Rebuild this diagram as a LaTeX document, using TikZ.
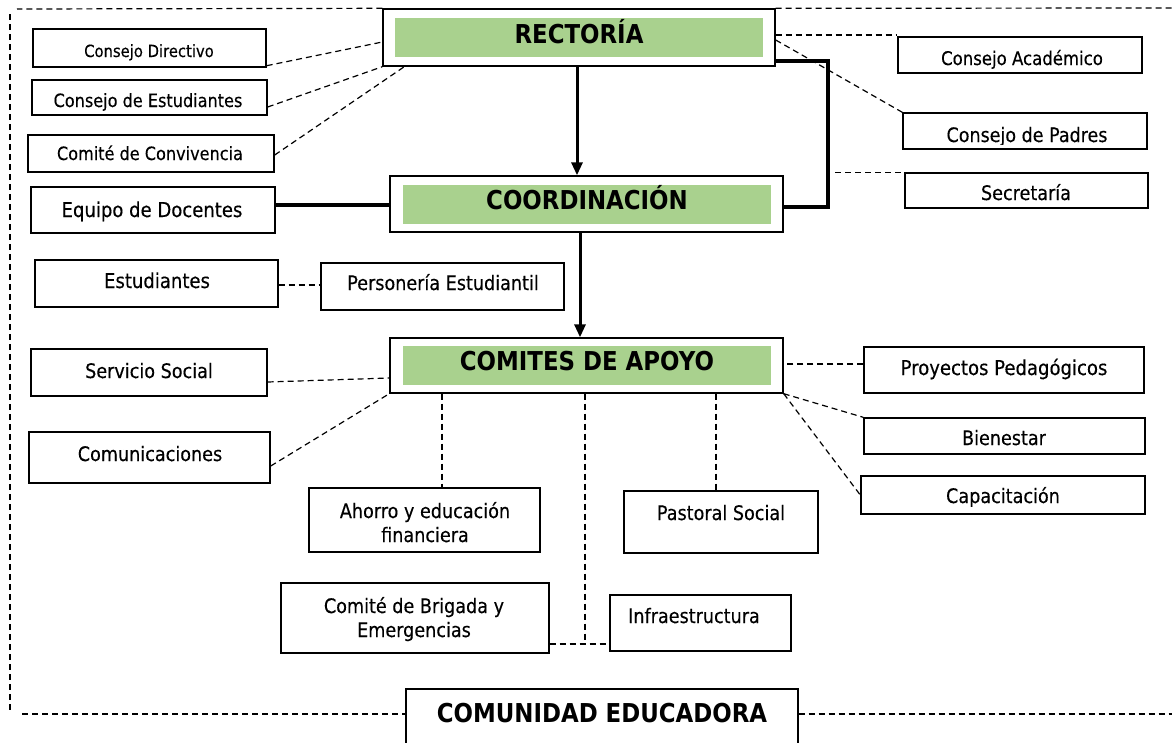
\documentclass[tikz,border=0pt]{standalone}
\usepackage{fontspec}
\setmainfont{DejaVu Sans}[FakeStretch=0.88, UprightFeatures={FakeBold=0.3}]
\usetikzlibrary{arrows.meta,calc}
\definecolor{hdgreen}{RGB}{169,209,142}
\newcommand{\fsz}[1]{\fontsize{#1}{#1}\selectfont}
\newcommand{\bx}[5]{\node[boxst, minimum width={#4-#2}, minimum height={#5-#3}] (#1) at ({(#2+#4)/2},{(#3+#5)/2}) {};}
\tikzset{
  boxst/.style={draw=black, line width=1.4pt, rectangle, inner sep=0pt, fill=white},
  dsh/.style={draw=black, line width=1.2pt, dash pattern=on 6pt off 4pt},
  thk/.style={draw=black, line width=4.5pt},
  arr/.style={draw=black, line width=3pt, -{Triangle[length=13pt,width=11pt]}},
  txt/.style={anchor=base, inner sep=0pt, font=\fsz{20}},
  ttl/.style={anchor=base, inner sep=0pt, font=\fsz{26}\bfseries}
}
\begin{document}
\begin{tikzpicture}[x=1pt,y=-1pt]
\useasboundingbox (0,0) rectangle (1172,742);

% ---- outer dashed frame
\coordinate (ftr) at (1172,8);
\coordinate (ftl) at (17,9);
\coordinate (flt) at (10,14);
\coordinate (flb) at (10,712);
\coordinate (fbl) at (22,714);
\coordinate (fbr) at (1172,714);

% ---- boxes
\bx{rect}{383}{9}{775}{66}
\bx{coord}{390}{176}{783}{232}
\bx{comites}{390}{338}{783}{393}
\bx{cdir}{33}{29}{266}{67}
\bx{cest}{32}{80}{267}{115}
\bx{cconv}{28}{135}{274}{172}
\bx{cacad}{898}{37}{1142}{73}
\bx{cpad}{903}{113}{1147}{149}
\bx{secr}{905}{173}{1148}{208}
\bx{equipo}{31}{187}{275}{233}
\bx{estud}{35}{260}{278}{307}
\bx{perso}{321}{263}{564}{310}
\bx{servsoc}{31}{349}{267}{396}
\bx{comun}{29}{432}{270}{483}
\bx{ahorro}{309}{488}{540}{552}
\bx{brigada}{281}{583}{549}{653}
\bx{proyped}{864}{347}{1144}{393}
\bx{bienestar}{864}{418}{1145}{454}
\bx{capac}{861}{476}{1145}{514}
\bx{pastoral}{624}{491}{818}{553}
\bx{infra}{610}{595}{791}{651}
\bx{comunidad}{406}{689}{798}{750}

% ---- green bands
\fill[hdgreen] (395,18) rectangle (763,57);
\fill[hdgreen] (403,185) rectangle (771,224);
\fill[hdgreen] (403,346) rectangle (771,385);

% ---- frame lines
\draw[dsh] (rect.north west) -- (ftl);
\draw[dsh] (rect.north east) -- (ftr);
\draw[dsh] (flt) -- (flb);
\draw[dsh] (fbl) -- ([yshift=5.5pt]comunidad.west);
\draw[dsh] ([yshift=5.5pt]comunidad.east) -- (fbr);

% ---- connectors: Rectoria
\draw[dsh] ([yshift=2pt]cdir.south east) -- ([yshift=-4.5pt]rect.west);
\draw[dsh] ([yshift=-9.5pt]cest.east) -- (rect.south west);
\draw[dsh] ([yshift=-1.5pt]cconv.east) -- ([xshift=22pt]rect.south west);
\draw[dsh] ([yshift=2.5pt]rect.east) coordinate (ra) -- (ra -| cacad.west);
\draw[dsh] ([yshift=-2.5pt]rect.east) -- (cpad.north west);
\coordinate (jog) at (828,0);
\coordinate (ta) at ([yshift=-23.5pt]rect.east);
\coordinate (tb) at ([yshift=-3pt]coord.east);
\draw[thk] (ta) -- (ta -| jog) -- (tb -| jog) -- (tb);
\draw[dsh] ([xshift=7pt]jog |- secr.north west) -- (secr.north west);
\draw[arr] ([xshift=-2pt]rect.south) -- ([xshift=-2pt]rect.south |- coord.north);

% ---- connectors: Coordinacion
\draw[thk] ([yshift=5pt]equipo.east) coordinate (ea) -- (ea -| coord.west);
\draw[dsh] ([yshift=-1.5pt]estud.east) coordinate (sa) -- (sa -| perso.west);
\draw[arr] ([xshift=-6.5pt]coord.south) -- ([xshift=-6.5pt]coord.south |- comites.north);

% ---- connectors: Comites
\draw[dsh] ([yshift=-9.5pt]servsoc.east) -- ([yshift=-12.5pt]comites.west);
\draw[dsh] ([yshift=-8.5pt]comun.east) -- (comites.south west);
\draw[dsh] ([xshift=17.5pt]ahorro.north |- comites.south) -- ([xshift=17.5pt]ahorro.north);
\coordinate (bj) at ([yshift=-26pt]brigada.east);
\draw[dsh] (bj) -- (bj -| infra.west);
\draw[dsh] ([xshift=-1.5pt]comites.south) -- ([xshift=-1.5pt]comites.south |- bj);
\draw[dsh] ([xshift=-5pt]pastoral.north |- comites.south) -- ([xshift=-5pt]pastoral.north);
\draw[dsh] ([yshift=6pt]proyped.west) coordinate (pa) -- (pa -| comites.east);
\draw[dsh] (comites.south east) -- (bienestar.north west);
\draw[dsh] (comites.south east) -- (capac.west);

% ---- texts
\node[ttl] (t-rect) at (579,43) {RECTORÍA};
\node[ttl] (t-coord) at (587,209) {COORDINACIÓN};
\node[ttl] (t-comites) at (587,370) {COMITES DE APOYO};
\node[ttl] (t-comunidad) at (602,722) {COMUNIDAD EDUCADORA};

\node[txt, font=\fsz{16.8}] (t-cdir) at (149,57) {Consejo Directivo};
\begin{scope}
\clip (34,82) rectangle (265,110);
\node[txt, font=\fsz{18.3}] (t-cest) at (148,107) {Consejo de Estudiantes};
\end{scope}
\node[txt, font=\fsz{18.3}] (t-cconv) at (150,160) {Comité de Convivencia};
\begin{scope}
\clip (900,39) rectangle (1140,68);
\node[txt, font=\fsz{18.8}] (t-cacad) at (1022,65) {Consejo Académico};
\end{scope}
\begin{scope}
\clip (905,115) rectangle (1145,144);
\node[txt, font=\fsz{19.9}] (t-cpad) at (1027,142) {Consejo de Padres};
\end{scope}
\begin{scope}
\clip (907,175) rectangle (1146,203);
\node[txt] (t-secr) at (1026,200) {Secretaría};
\end{scope}
\node[txt, font=\fsz{20.5}] (t-equipo) at (152,217) {Equipo de Docentes};
\node[txt, font=\fsz{20.5}] (t-estud) at (157,288) {Estudiantes};
\node[txt] (t-perso) at (443,290) {Personería Estudiantil};
\node[txt] (t-servsoc) at (149,378) {Servicio Social};
\node[txt] (t-comun) at (150,461) {Comunicaciones};
\node[txt] (t-ahorro1) at (425,518) {Ahorro y educación};
\node[txt] (t-ahorro2) at (425,542) {financiera};
\node[txt] (t-brig1) at (414,613) {Comité de Brigada y};
\node[txt] (t-brig2) at (414,637) {Emergencias};
\node[txt, font=\fsz{20.5}] (t-proyped) at (1004,375) {Proyectos Pedagógicos};
\begin{scope}
\clip (866,420) rectangle (1143,446);
\node[txt] (t-bienestar) at (1004,445) {Bienestar};
\end{scope}
\begin{scope}
\clip (863,478) rectangle (1143,506);
\node[txt] (t-capac) at (1003,503) {Capacitación};
\end{scope}
\node[txt] (t-pastoral) at (721,520) {Pastoral Social};
\node[txt] (t-infra) at (694,623) {Infraestructura};
\end{tikzpicture}
\end{document}
